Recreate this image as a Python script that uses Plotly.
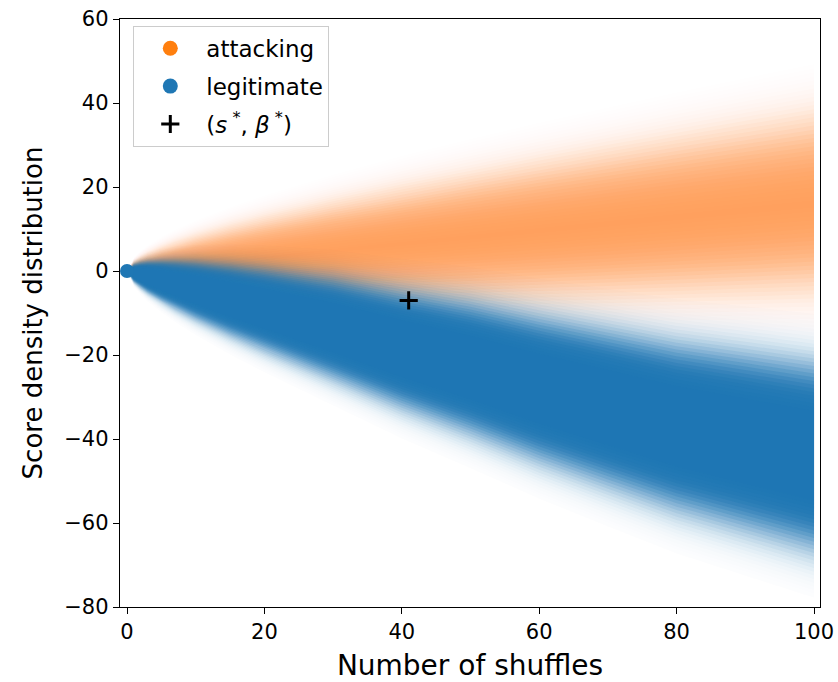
import math
import plotly.graph_objects as go

# ---- values ----
shuffles = [0, 1, 2, 3, 5, 7, 10, 15, 20, 30, 40, 50, 60, 70, 80, 90, 100]
attack_center = [0, 0.16, 0.32, 0.48, 0.8, 1.12, 1.6, 2.4, 3.2, 4.8, 6.4, 8.0, 9.6, 11.2, 12.8, 14.4, 16.0]
attack_spread = [0, 0.98, 1.39, 1.70, 2.19, 2.59, 3.10, 3.80, 4.38, 5.37, 6.20, 6.93, 7.59, 8.20, 8.77, 9.30, 9.80]
legit_center = [0, -0.45, -0.9, -1.35, -2.25, -3.15, -4.5, -6.75, -9.0, -13.5, -18.5, -23.0, -28.0, -32.5, -37.0, -40.5, -44.0]
legit_spread = [0, 0.89, 1.26, 1.55, 1.99, 2.36, 2.82, 3.45, 3.98, 4.88, 5.63, 6.30, 6.90, 7.45, 7.96, 8.45, 8.90]
star_point_x = [41]
star_point_y = [-7]
origin_x = [0]
origin_y = [0]
x_ticks = [0, 20, 40, 60, 80, 100]
y_ticks = [-80, -60, -40, -20, 0, 20, 40, 60]

ORANGE = (255, 127, 14)
BLUE = (31, 119, 180)

fig = go.Figure()

levels = [round(3.8 - 0.1 * i, 2) for i in range(38)]


def add_density(center, spread, rgb, peak, k):
    prev = 0.0
    for f in levels:
        d = max(f - 0.05, 0)
        t = peak * (1 - math.exp(-k * math.exp(-d * d / 2)))
        t = min(t, 0.997)
        a = 1 - (1 - t) / (1 - prev)
        prev = t
        if a <= 0.001:
            continue
        upper = [c + f * s for c, s in zip(center, spread)]
        lower = [c - f * s for c, s in zip(center, spread)]
        fig.add_trace(go.Scatter(
            x=shuffles + shuffles[::-1],
            y=upper + lower[::-1],
            fill="toself",
            mode="lines",
            line=dict(width=0),
            fillcolor="rgba(%d,%d,%d,%.4f)" % (rgb + (a,)),
            hoverinfo="skip",
            showlegend=False,
        ))


add_density(attack_center, attack_spread, ORANGE, 0.66, 3.0)
add_density(legit_center, legit_spread, BLUE, 1.0, 12.0)

fig.add_trace(go.Scatter(x=origin_x, y=origin_y, mode="markers",
                         marker=dict(size=14, color="#1f77b4"),
                         showlegend=False, hoverinfo="skip"))

# legend entries
fig.add_trace(go.Scatter(x=[None], y=[None], mode="markers", name="attacking",
                         legendgroup="a",
                         marker=dict(size=15, color="#ff7f0e")))
fig.add_trace(go.Scatter(x=[None], y=[None], mode="markers", name="legitimate",
                         legendgroup="b",
                         marker=dict(size=15, color="#1f77b4")))
fig.add_trace(go.Scatter(x=star_point_x, y=star_point_y, mode="markers",
                         name="(<i>s</i><sup> *</sup>, <i>β</i><sup> *</sup>)",
                         legendgroup="c",
                         marker=dict(symbol="cross-thin", size=13,
                                     line=dict(width=3, color="black"),
                                     color="black")))

fig.update_layout(
    width=838, height=682,
    margin=dict(l=120, r=18, t=19, b=75),
    paper_bgcolor="white", plot_bgcolor="white",
    font=dict(family="DejaVu Sans", size=21, color="black"),
    legend=dict(x=0.019, y=0.9885, xanchor="left", yanchor="top",
                bgcolor="rgba(255,255,255,0.8)", bordercolor="#cccccc",
                borderwidth=1, font=dict(size=23), tracegroupgap=5,
                itemwidth=62),
    xaxis=dict(range=[-1.02, 100.87], tickvals=x_ticks,
               ticktext=[str(v) for v in x_ticks], automargin=False,
               showgrid=False, zeroline=False, showline=True, linecolor="black",
               linewidth=1.4, mirror=True, ticks="outside", ticklen=6,
               tickwidth=1.3, tickcolor="black", tickfont=dict(size=21),
               title=dict(text="Number of shuffles", font=dict(size=28), standoff=13)),
    yaxis=dict(range=[-80, 60], tickvals=y_ticks,
               ticktext=[("\u2212" + str(-v)) if v < 0 else str(v) for v in y_ticks],
               automargin=False,
               showgrid=False, zeroline=False, showline=True, linecolor="black",
               linewidth=1.4, mirror=True, ticks="outside", ticklen=6,
               tickwidth=1.3, tickcolor="black", tickfont=dict(size=21),
               title=dict(text="Score density distribution", font=dict(size=26), standoff=14)),
)

fig.write_html("out.html", config={"displayModeBar": False},
               post_script="document.body.style.margin='0';")
